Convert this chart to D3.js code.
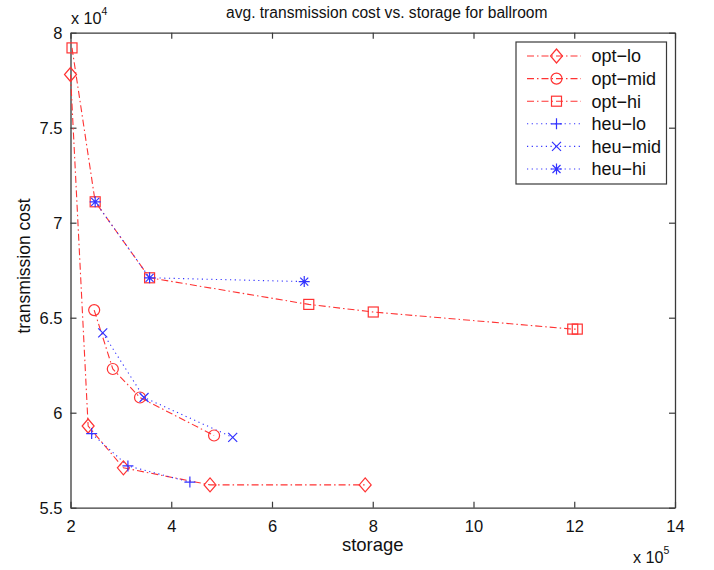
<!DOCTYPE html>
<html>
<head>
<meta charset="utf-8">
<script src="https://cdn.jsdelivr.net/npm/d3@7"></script>
<style>
  html, body { margin: 0; padding: 0; background: #fff; }
  svg { display: block; font-family: "Liberation Sans", Arial, Helvetica, sans-serif; }
</style>
</head>
<body>
<svg id="chart" width="714" height="570"></svg>
<script>
// ---- data (storage in units of 1e5, transmission cost in units of 1e4) ----
const optLoX  = [2.00, 2.35, 3.05, 4.77, 7.85];
const optLoY  = [7.78, 5.93, 5.71, 5.62, 5.62];
const optMidX = [2.47, 2.84, 3.38, 4.85];
const optMidY = [6.54, 6.23, 6.08, 5.88];
const optHiX  = [2.03, 2.49, 3.57, 6.73, 8.01, 11.97, 12.06];
const optHiY  = [7.92, 7.11, 6.71, 6.57, 6.53, 6.44, 6.44];
const heuLoX  = [2.42, 3.14, 4.37];
const heuLoY  = [5.89, 5.72, 5.635];
const heuMidX = [2.64, 3.46, 5.22];
const heuMidY = [6.42, 6.08, 5.87];
const heuHiX  = [2.49, 3.57, 6.64];
const heuHiY  = [7.11, 6.71, 6.69];

const seriesNames = ["opt-lo", "opt-mid", "opt-hi", "heu-lo", "heu-mid", "heu-hi"];
const xTicks = [2, 4, 6, 8, 10, 12, 14];
const yTicks = [5.5, 6, 6.5, 7, 7.5, 8];

const RED = "#ff3333", BLUE = "#3333ff";
const series = [
  {name: seriesNames[0], x: optLoX,  y: optLoY,  color: RED,  dash: "7,3,1.5,3", marker: "diamond"},
  {name: seriesNames[1], x: optMidX, y: optMidY, color: RED,  dash: "7,3,1.5,3", marker: "circle"},
  {name: seriesNames[2], x: optHiX,  y: optHiY,  color: RED,  dash: "7,3,1.5,3", marker: "square"},
  {name: seriesNames[3], x: heuLoX,  y: heuLoY,  color: BLUE, dash: "1.2,3.5",   marker: "plus"},
  {name: seriesNames[4], x: heuMidX, y: heuMidY, color: BLUE, dash: "1.2,3.5",   marker: "cross"},
  {name: seriesNames[5], x: heuHiX,  y: heuHiY,  color: BLUE, dash: "1.2,3.5",   marker: "star"}
];

const svg = d3.select("#chart");
const L = 70.5, R = 675, T = 32.7, B = 507.7;
const x = d3.scaleLinear().domain([2, 14]).range([L, R]);
const y = d3.scaleLinear().domain([5.5, 8]).range([B, T]);

const axisColor = "#3a3a3a";
const tickLen = 6;
const tickFont = "16.5px";
const textColor = "#111";

const gx = svg.append("g").attr("transform", `translate(0,${B})`)
  .call(d3.axisBottom(x).tickValues(xTicks).tickSizeInner(-tickLen).tickSizeOuter(0).tickFormat(d3.format("d")));
gx.selectAll(".tick text").attr("y", 24.5).attr("dy", 0);
const gxTop = svg.append("g").attr("transform", `translate(0,${T})`)
  .call(d3.axisTop(x).tickValues(xTicks).tickSizeInner(-tickLen).tickSizeOuter(0).tickFormat(""));
const gy = svg.append("g").attr("transform", `translate(${L},0)`)
  .call(d3.axisLeft(y).tickValues(yTicks).tickSizeInner(-tickLen).tickSizeOuter(0).tickFormat(d => String(d)));
gy.selectAll(".tick text").attr("x", -8).attr("dy", "0.36em");
const gyR = svg.append("g").attr("transform", `translate(${R},0)`)
  .call(d3.axisRight(y).tickValues(yTicks).tickSizeInner(-tickLen).tickSizeOuter(0).tickFormat(""));

[gx, gxTop, gy, gyR].forEach(g => {
  g.select(".domain").attr("stroke", axisColor).attr("stroke-width", 1.3);
  g.selectAll(".tick line").attr("stroke", axisColor).attr("stroke-width", 1.2);
  g.selectAll(".tick text").attr("fill", textColor).style("font-size", tickFont)
    .style("font-family", '"Liberation Sans", Arial, sans-serif');
});

// exponent labels
const e4 = svg.append("text").attr("x", 71).attr("y", 24).attr("fill", textColor).style("font-size", "16.2px");
e4.append("tspan").text("x 10");
e4.append("tspan").attr("dy", -9).style("font-size", "10.5px").text("4");
const e5 = svg.append("text").attr("x", 633).attr("y", 563).attr("fill", textColor).style("font-size", "16.2px");
e5.append("tspan").text("x 10");
e5.append("tspan").attr("dy", -9).style("font-size", "10.5px").text("5");

// title & axis labels
svg.append("text").attr("x", (L + R) / 2 + 14).attr("y", 18).attr("text-anchor", "middle")
  .attr("fill", textColor).style("font-size", "15.6px").text("avg. transmission cost vs. storage for ballroom");
svg.append("text").attr("x", (L + R) / 2).attr("y", 551).attr("text-anchor", "middle")
  .attr("fill", textColor).style("font-size", "18.5px").text("storage");
svg.append("text").attr("transform", `translate(30,266) rotate(-90)`).attr("text-anchor", "middle")
  .attr("fill", textColor).style("font-size", "17.5px").text("transmission cost");

// marker drawing
function drawMarker(g, type, cx, cy, color) {
  const s = g.append("g").attr("transform", `translate(${cx},${cy})`)
    .attr("fill", "none").attr("stroke", color).attr("stroke-width", 1.2);
  if (type === "diamond") {
    s.append("path").attr("d", "M0,-7 L6,0 L0,7 L-6,0 Z");
  } else if (type === "circle") {
    s.append("circle").attr("r", 5.5);
  } else if (type === "square") {
    s.append("rect").attr("x", -5).attr("y", -5).attr("width", 10).attr("height", 10);
  } else if (type === "plus") {
    s.append("path").attr("d", "M-5.5,0 H5.5 M0,-5.5 V5.5");
  } else if (type === "cross") {
    s.append("path").attr("d", "M-4.5,-4.5 L4.5,4.5 M-4.5,4.5 L4.5,-4.5");
  } else if (type === "star") {
    s.append("path").attr("d", "M-5.5,0 H5.5 M0,-5.5 V5.5 M-4,-4 L4,4 M-4,4 L4,-4");
  }
}

const plot = svg.append("g");
const line = d3.line().x(d => x(d[0])).y(d => y(d[1]));
series.forEach(s => {
  const pts = s.x.map((v, i) => [v, s.y[i]]);
  plot.append("path").datum(pts).attr("d", line).attr("fill", "none")
    .attr("stroke", s.color).attr("stroke-width", 1.1).attr("stroke-dasharray", s.dash);
});
series.forEach(s => {
  s.x.forEach((v, i) => drawMarker(plot, s.marker, x(v), y(s.y[i]), s.color));
});

// legend
const lg = svg.append("g");
lg.append("rect").attr("x", 516).attr("y", 42).attr("width", 150.5).attr("height", 142)
  .attr("fill", "#fff").attr("stroke", axisColor).attr("stroke-width", 1.2);
series.forEach((s, i) => {
  const ly = 56 + i * 22.6;
  lg.append("line").attr("x1", 527).attr("x2", 581).attr("y1", ly).attr("y2", ly)
    .attr("stroke", s.color).attr("stroke-width", 1.1).attr("stroke-dasharray", s.dash);
  drawMarker(lg, s.marker, 556.5, ly, s.color);
  lg.append("text").attr("x", 591.5).attr("y", ly + 6.3).attr("fill", textColor)
    .style("font-size", "18px").text(s.name.replace("-", "\u2212"));
});
</script>
</body>
</html>
